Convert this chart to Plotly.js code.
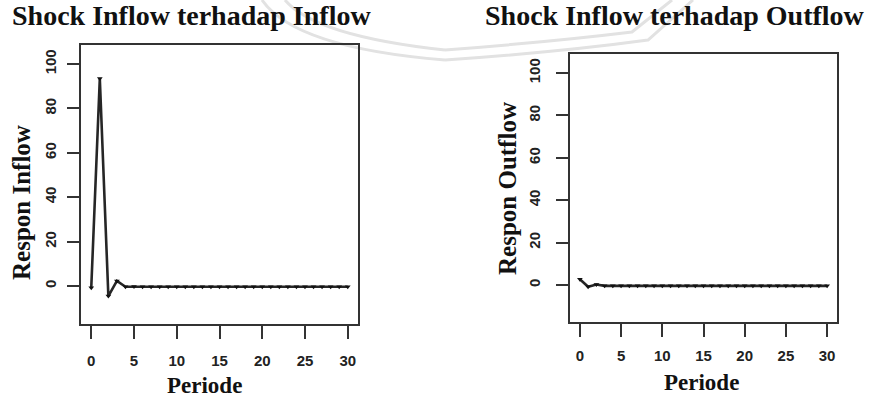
<!DOCTYPE html>
<html>
<head>
<meta charset="utf-8">
<script src="https://cdn.plot.ly/plotly-3.0.1.min.js"></script>
<style>html,body{margin:0;padding:0;background:#fff;}#chart{width:875px;height:398px;}</style>
</head>
<body>
<div id="chart"></div>
<script>
var periods = [0,1,2,3,4,5,6,7,8,9,10,11,12,13,14,15,16,17,18,19,20,21,22,23,24,25,26,27,28,29,30];
var responInflow = [-0.8,93.5,-4.5,2.3,-0.3,-0.2,-0.3,-0.3,-0.3,-0.3,-0.3,-0.3,-0.3,-0.3,-0.3,-0.3,-0.3,-0.3,-0.3,-0.3,-0.3,-0.3,-0.3,-0.3,-0.3,-0.3,-0.3,-0.3,-0.3,-0.3,-0.3];
var responOutflow = [2.7,-0.8,0.2,-0.4,-0.4,-0.4,-0.4,-0.4,-0.4,-0.4,-0.4,-0.4,-0.4,-0.4,-0.4,-0.4,-0.4,-0.4,-0.4,-0.4,-0.4,-0.4,-0.4,-0.4,-0.4,-0.4,-0.4,-0.4,-0.4,-0.4,-0.4];
var xTicks = [0,5,10,15,20,25,30];
var yTicks = [0,20,40,60,80,100];
var titleLeft = 'Shock Inflow terhadap Inflow';
var titleRight = 'Shock Inflow terhadap Outflow';
var yTitleLeft = 'Respon Inflow';
var yTitleRight = 'Respon Outflow';
var xTitle = 'Periode';

var W = 875, H = 398;
function px(x){return x/W;}
function py(y){return 1 - y/H;}

var lineStyle = {color:'#262626', width:2.6};
var markerStyle = {symbol:'triangle-down', size:5, color:'#111'};

var traces = [
  {x:periods, y:responInflow, xaxis:'x', yaxis:'y', mode:'lines+markers', line:lineStyle, marker:markerStyle, hoverinfo:'x+y'},
  {x:periods, y:responOutflow, xaxis:'x2', yaxis:'y2', mode:'lines+markers', line:lineStyle, marker:markerStyle, hoverinfo:'x+y'}
];

var tickFont = {family:'Liberation Sans, Arial, sans-serif', size:15, color:'#222', weight:'bold'};
function xax(dom, anchor, standoff){
  return {domain:dom, anchor:anchor, range:[-1.2,31.2], tickmode:'array', tickvals:xTicks, ticktext:xTicks.map(String),
    ticks:'outside', ticklen:13, tickwidth:2, tickcolor:'#333', showline:true, mirror:true, linecolor:'#333', linewidth:2,
    showgrid:false, zeroline:false, tickfont:tickFont, ticklabelstandoff:standoff};
}
function yax(dom, anchor, range, standoff){
  return {domain:dom, anchor:anchor, range:range, tickmode:'array', tickvals:yTicks, ticktext:yTicks.map(String),
    ticks:'outside', ticklen:12, tickwidth:2, tickcolor:'#333', showline:true, mirror:true, linecolor:'#333', linewidth:2,
    showgrid:false, zeroline:false, tickfont:tickFont, tickangle:-90, ticklabelstandoff:standoff};
}

var serifBold = {family:'Liberation Serif, Times New Roman, serif', color:'#111'};
function ann(text, x, y, size, angle){
  return {text:'<b>'+text+'</b>', xref:'paper', yref:'paper', x:px(x), y:py(y), xanchor:'center', yanchor:'middle',
    showarrow:false, textangle:angle||0, font:Object.assign({size:size}, serifBold)};
}
function curve(d){
  return {type:'path', xref:'paper', yref:'paper', layer:'below', path:d, line:{color:'#e2e2e2', width:3}};
}
function P(x,y){return px(x)+','+py(y);}

var layout = {
  width:W, height:H, margin:{l:0,r:0,t:0,b:0}, paper_bgcolor:'#fff', plot_bgcolor:'rgba(0,0,0,0)', showlegend:false,
  xaxis: xax([px(81), px(358)], 'y', 9),
  yaxis: yax([py(324), py(45)], 'x', [-17.1,108.6], 5),
  xaxis2: xax([px(570), px(837)], 'y2', 6),
  yaxis2: yax([py(322), py(54)], 'x2', [-17.45,108.96], 10),
  shapes:[
    curve('M'+P(262,0)+' Q'+P(295,48)+' '+P(445,60)),
    curve('M'+P(285,0)+' Q'+P(315,36)+' '+P(445,50)),
    curve('M'+P(693,0)+' L'+P(648,40)+' Q'+P(560,52)+' '+P(445,60)),
    curve('M'+P(672,0)+' L'+P(632,32)+' Q'+P(550,42)+' '+P(445,50))
  ],
  annotations:[
    ann(titleLeft, 191, 16, 28),
    ann(titleRight, 675, 16, 28),
    ann(yTitleLeft, 21, 203, 25, -90),
    ann(yTitleRight, 507, 189, 25, -90),
    ann(xTitle, 204, 385, 23),
    ann(xTitle, 701, 382, 23)
  ]
};

Plotly.newPlot('chart', traces, layout, {staticPlot:true, displayModeBar:false});
</script>
</body>
</html>
